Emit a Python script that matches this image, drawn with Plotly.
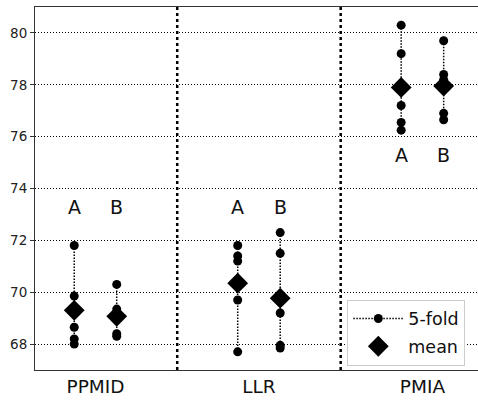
import plotly.graph_objects as go

groups = ["PPMID", "LLR", "PMIA"]
variants = ["A", "B"]
folds_A = [[71.8, 69.85, 68.65, 68.2, 68.0],
           [71.8, 71.4, 71.2, 69.7, 67.7],
           [80.3, 79.2, 77.2, 76.55, 76.25]]
folds_B = [[70.3, 69.35, 69.0, 68.4, 68.3],
           [72.3, 71.5, 69.2, 67.95, 67.85],
           [79.7, 78.4, 78.2, 76.9, 76.65]]
mean_A = [69.3, 70.35, 77.9]
mean_B = [69.07, 69.77, 77.95]
label_y = [73.3, 73.3, 75.3]
y_ticks = [68, 70, 72, 74, 76, 78, 80]

offset = 0.13
fold_x, fold_y, mean_x, mean_y = [], [], [], []
lab_x, lab_y, lab_t = [], [], []
for gi in range(len(groups)):
    for vi, (folds, means) in enumerate([(folds_A, mean_A), (folds_B, mean_B)]):
        xv = gi + (-offset if vi == 0 else offset)
        vals = sorted(folds[gi], reverse=True)
        fold_x += [xv] * len(vals) + [None]
        fold_y += vals + [None]
        mean_x.append(xv)
        mean_y.append(means[gi])
        lab_x.append(xv)
        lab_y.append(label_y[gi])
        lab_t.append(variants[vi])

fig = go.Figure()
fig.add_trace(go.Scatter(
    x=fold_x, y=fold_y, mode="lines+markers", name="5-fold", legendgroup="f",
    line=dict(color="black", width=1.5, dash="1.5px,1.5px"),
    marker=dict(color="black", size=9, symbol="circle"),
    connectgaps=False,
))
fig.add_trace(go.Scatter(
    x=mean_x, y=mean_y, mode="markers", name="mean", legendgroup="m",
    marker=dict(color="black", size=16, symbol="diamond"),
))
for xv, yv, t in zip(lab_x, lab_y, lab_t):
    fig.add_annotation(x=xv, y=yv, text=t, showarrow=False, xref="x", yref="y",
                       font=dict(size=19, color="#111", family="DejaVu Sans"))
for sep in [0.5, 1.5]:
    fig.add_shape(type="line", xref="x", yref="paper", x0=sep, x1=sep, y0=0, y1=1,
                  line=dict(color="black", width=2.5, dash="dot"), layer="above")

fig.update_layout(
    width=478, height=400,
    margin=dict(l=35, r=0, t=7, b=30, pad=0),
    plot_bgcolor="white", paper_bgcolor="white",
    font=dict(family="DejaVu Sans", color="#222"),
    showlegend=True,
    legend=dict(x=0.705, y=0.012, xanchor="left", yanchor="bottom",
                bgcolor="white", bordercolor="#cccccc", borderwidth=1,
                font=dict(size=17.5, color="#111"), tracegroupgap=2,
                itemwidth=50),
)
fig.update_xaxes(
    range=[-0.37, 2.34], tickvals=list(range(len(groups))), ticktext=groups,
    showgrid=False, zeroline=False, showline=True, linecolor="#333", linewidth=1,
    mirror=True, ticks="", tickfont=dict(size=18.5, color="#111"),
    automargin=False,
)
fig.update_yaxes(
    range=[67, 81], tickvals=y_ticks, showgrid=True, gridcolor="black",
    gridwidth=1, griddash="1px,2px", zeroline=False, showline=True,
    linecolor="#333", linewidth=1, ticks="outside", ticklen=4, tickcolor="#333",
    tickfont=dict(size=13.5, color="#222"), automargin=False,
)
fig.write_html("out.html", config={"displayModeBar": False},
               post_script="document.body.style.margin='0px';document.body.style.overflow='hidden';")
